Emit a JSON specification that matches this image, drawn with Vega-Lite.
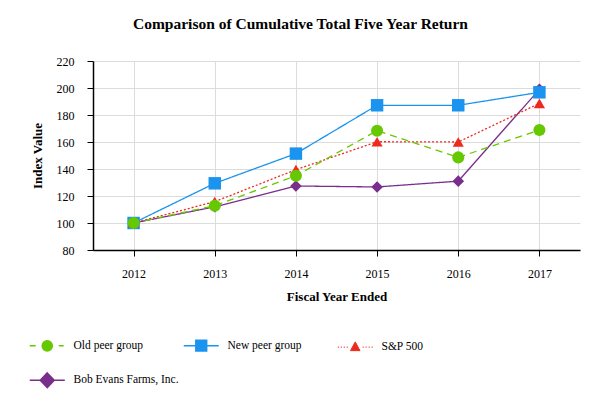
{
  "$schema": "https://vega.github.io/schema/vega-lite/v6.json",
  "width": 487,
  "height": 189,
  "autosize": {"type": "none"},
  "padding": {"left": 93, "top": 61, "right": 33, "bottom": 163},
  "background": "white",
  "config": {"font": "Liberation Serif", "view": {"stroke": null}},
  "title": {"text": "Comparison of Cumulative Total Five Year Return", "font": "Liberation Serif", "fontSize": 15.5, "fontWeight": "bold", "anchor": "middle", "dx": -36, "offset": 23, "color": "black"},
  "data": {"values": [
    {"year": "2012", "series": "Bob Evans Farms, Inc.", "value": 100},
    {"year": "2013", "series": "Bob Evans Farms, Inc.", "value": 112},
    {"year": "2014", "series": "Bob Evans Farms, Inc.", "value": 127.4},
    {"year": "2015", "series": "Bob Evans Farms, Inc.", "value": 126.7},
    {"year": "2016", "series": "Bob Evans Farms, Inc.", "value": 131},
    {"year": "2017", "series": "Bob Evans Farms, Inc.", "value": 199},
    {"year": "2012", "series": "New peer group", "value": 100},
    {"year": "2013", "series": "New peer group", "value": 129.4},
    {"year": "2014", "series": "New peer group", "value": 151.4},
    {"year": "2015", "series": "New peer group", "value": 187.2},
    {"year": "2016", "series": "New peer group", "value": 187.2},
    {"year": "2017", "series": "New peer group", "value": 196.8},
    {"year": "2012", "series": "S&P 500", "value": 100},
    {"year": "2013", "series": "S&P 500", "value": 115.8},
    {"year": "2014", "series": "S&P 500", "value": 139.5},
    {"year": "2015", "series": "S&P 500", "value": 160.2},
    {"year": "2016", "series": "S&P 500", "value": 160},
    {"year": "2017", "series": "S&P 500", "value": 188.6},
    {"year": "2012", "series": "Old peer group", "value": 100},
    {"year": "2013", "series": "Old peer group", "value": 112.8},
    {"year": "2014", "series": "Old peer group", "value": 135},
    {"year": "2015", "series": "Old peer group", "value": 168.4},
    {"year": "2016", "series": "Old peer group", "value": 148.6},
    {"year": "2017", "series": "Old peer group", "value": 168.9}
  ]},
  "encoding": {
    "x": {"field": "year", "type": "ordinal", "scale": {"type": "point", "padding": 0.5},
      "axis": {"labelAngle": 0, "grid": true, "gridColor": "#dcdcdc", "domainColor": "black", "domainWidth": 1.5, "tickColor": "black", "tickSize": 6, "labelPadding": 12, "labelFont": "Liberation Serif", "labelFontSize": 12, "labelColor": "black", "title": "Fiscal Year Ended", "titleFont": "Liberation Serif", "titleFontSize": 13, "titleFontWeight": "bold", "titleColor": "black", "titlePadding": 11}},
    "y": {"field": "value", "type": "quantitative", "scale": {"domain": [80, 220], "zero": false, "nice": false},
      "axis": {"values": [80, 100, 120, 140, 160, 180, 200, 220], "grid": true, "gridColor": "#dcdcdc", "domainColor": "black", "domainWidth": 1.5, "tickColor": "black", "tickSize": 6, "labelPadding": 13, "labelFont": "Liberation Serif", "labelFontSize": 12, "labelColor": "black", "title": "Index Value", "titleFont": "Liberation Serif", "titleFontSize": 13, "titleFontWeight": "bold", "titleColor": "black", "titlePadding": 12}}
  },
  "layer": [
    {
      "mark": {"type": "line", "strokeWidth": 1.3},
      "encoding": {
        "color": {"field": "series", "type": "nominal", "scale": {"domain": ["Old peer group", "New peer group", "S&P 500", "Bob Evans Farms, Inc."], "range": ["#66c800", "#1a94ee", "#ee2a1e", "#7a2e8c"]},
          "legend": {"orient": "none", "legendX": -51.5, "legendY": 277.5, "direction": "horizontal", "columns": 3, "title": null, "gridAlign": "all", "columnPadding": 1, "rowPadding": 14, "labelFont": "Liberation Serif", "labelFontSize": 11.5, "labelColor": "black", "labelOffset": 20.5,
            "encode": {"symbols": {"update": {
              "shape": {"signal": "datum.value === 'Old peer group' ? 'M-1,0H-0.66M0.66,0H0.94M-0.29,0A0.29,0.29,0,1,0,0.29,0A0.29,0.29,0,1,0,-0.29,0Z' : datum.value === 'New peer group' ? 'M-1,0H1M-0.31,-0.31H0.31V0.31H-0.31Z' : datum.value === 'S&P 500' ? 'M-1,0H-0.93M-0.83,0H-0.76M-0.66,0H-0.59M-0.49,0H-0.42M0.42,0H0.49M0.59,0H0.66M0.76,0H0.83M0.93,0H1M0,-0.3L0.27,0.2L-0.27,0.2Z' : 'M-1,0H1M0,-0.42L0.4,0L0,0.42L-0.4,0Z'"},
              "stroke": {"signal": "scale('color', datum.value)"},
              "fill": {"signal": "scale('color', datum.value)"},
              "strokeWidth": {"signal": "datum.value === 'S&P 500' ? 1 : 1.5"},
              "strokeDash": {"value": []},
              "opacity": {"value": 1},
              "size": {"value": 1225}
            }}}}},
        "strokeDash": {"field": "series", "type": "nominal", "scale": {"domain": ["Bob Evans Farms, Inc.", "Old peer group", "New peer group", "S&P 500"], "range": [[1, 0], [7, 5], [1, 0], [2, 2]]}, "legend": null}
      }
    },
    {
      "mark": {"type": "point", "filled": true, "opacity": 1},
      "encoding": {
        "fill": {"field": "series", "type": "nominal", "scale": {"domain": ["Bob Evans Farms, Inc.", "New peer group", "S&P 500", "Old peer group"], "range": ["#7a2e8c", "#1a94ee", "#ee2a1e", "#66c800"]}, "legend": null},
        "shape": {"field": "series", "type": "nominal", "scale": {"domain": ["S&P 500", "Bob Evans Farms, Inc.", "Old peer group", "New peer group"], "range": ["triangle-up", "diamond", "circle", "square"]}, "legend": null},
        "size": {"field": "series", "type": "nominal", "scale": {"domain": ["New peer group", "Old peer group", "Bob Evans Farms, Inc.", "S&P 500"], "range": [155, 125, 175, 110]}, "legend": null}
      }
    }
  ]
}
